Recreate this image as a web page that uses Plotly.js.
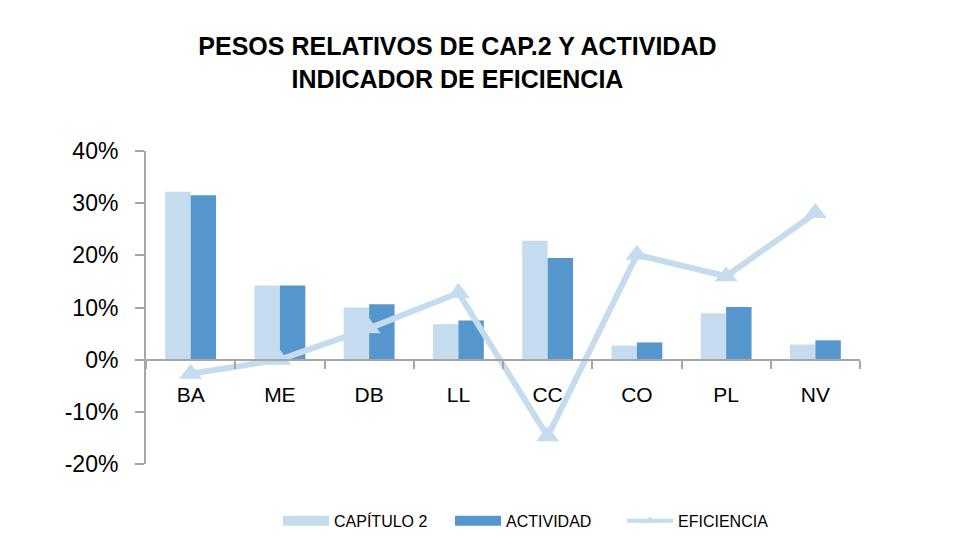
<!DOCTYPE html>
<html>
<head>
<meta charset="utf-8">
<script src="https://cdn.plot.ly/plotly-3.0.1.min.js"></script>
<style>html,body{margin:0;padding:0;background:#fff;}#chart{width:957px;height:550px;}</style>
</head>
<body>
<div id="chart"></div>
<script>
const categories = ["BA", "ME", "DB", "LL", "CC", "CO", "PL", "NV"];
const capitulo2 = [0.322, 0.142, 0.100, 0.068, 0.228, 0.027, 0.089, 0.029];
const actividad = [0.315, 0.142, 0.106, 0.075, 0.195, 0.033, 0.101, 0.037];
const eficiencia = [-0.027, 0.000, 0.060, 0.128, -0.147, 0.201, 0.160, 0.281];
const yTickVals = [-0.2, -0.1, 0, 0.1, 0.2, 0.3, 0.4];
const yTickText = ["-20%", "-10%", "0%", "10%", "20%", "30%", "40%"];
const seriesNames = ["CAPÍTULO 2", "ACTIVIDAD", "EFICIENCIA"];

const cLight = "#c5dcef";
const cDark = "#5596cd";
const axisGray = "#a6a6a6";
const FONT = "Liberation Sans, Arial, sans-serif";

const traces = [
  {type: "bar", x: categories, y: capitulo2, name: seriesNames[0], marker: {color: cLight}, showlegend: false},
  {type: "bar", x: categories, y: actividad, name: seriesNames[1], marker: {color: cDark}, showlegend: false},
  {type: "scatter", mode: "lines+markers", x: categories, y: eficiencia, name: seriesNames[2],
   line: {color: cLight, width: 6}, marker: {symbol: "triangle-up", size: 20, color: cLight}, showlegend: false},
  // legend entries
  {type: "scatter", mode: "lines", x: [null], y: [null], name: seriesNames[0], line: {color: cLight, width: 10}},
  {type: "scatter", mode: "lines", x: [null], y: [null], name: seriesNames[1], line: {color: cDark, width: 10}},
  {type: "scatter", mode: "lines+markers", x: [null], y: [null], name: seriesNames[2],
   line: {color: cLight, width: 4}, marker: {symbol: "triangle-up", size: 9, color: cLight}}
];

const layout = {
  width: 957, height: 550,
  margin: {l: 146, r: 97, t: 151, b: 86},
  paper_bgcolor: "#fff", plot_bgcolor: "#fff",
  font: {family: FONT, color: "#000"},
  title: {
    text: "<b>PESOS RELATIVOS DE CAP.2 Y ACTIVIDAD<br>INDICADOR DE EFICIENCIA</b>",
    font: {family: FONT, size: 25, color: "#000"},
    x: 0.478, xanchor: "center", xref: "container",
    y: 0.90, yanchor: "top", yref: "container"
  },
  barmode: "group", bargap: 0.43, bargroupgap: 0,
  xaxis: {
    type: "category", anchor: "free", position: 1/3, range: [-0.5, 7.5],
    showline: true, linecolor: axisGray, linewidth: 2,
    ticks: "outside", tickson: "boundaries", ticklen: 8, tickwidth: 2, tickcolor: axisGray,
    tickfont: {family: FONT, size: 21, color: "#000"}, ticklabelstandoff: 16,
    showgrid: false, zeroline: false, fixedrange: true
  },
  yaxis: {
    range: [-0.2, 0.4], tickvals: yTickVals, ticktext: yTickText,
    showline: true, linecolor: axisGray, linewidth: 2,
    ticks: "outside", ticklen: 9, tickwidth: 2, tickcolor: axisGray,
    tickfont: {family: FONT, size: 23, color: "#000"}, ticklabelstandoff: 12,
    showgrid: false, zeroline: false, fixedrange: true
  },
  showlegend: true,
  legend: {
    orientation: "h", x: 0.2905, xref: "container", xanchor: "left",
    y: 0.053, yref: "container", yanchor: "middle",
    font: {family: FONT, size: 16, color: "#000"},
    traceorder: "normal", itemwidth: 46, entrywidth: 111
  }
};

Plotly.newPlot("chart", traces, layout, {displayModeBar: false, staticPlot: true});
</script>
</body>
</html>
